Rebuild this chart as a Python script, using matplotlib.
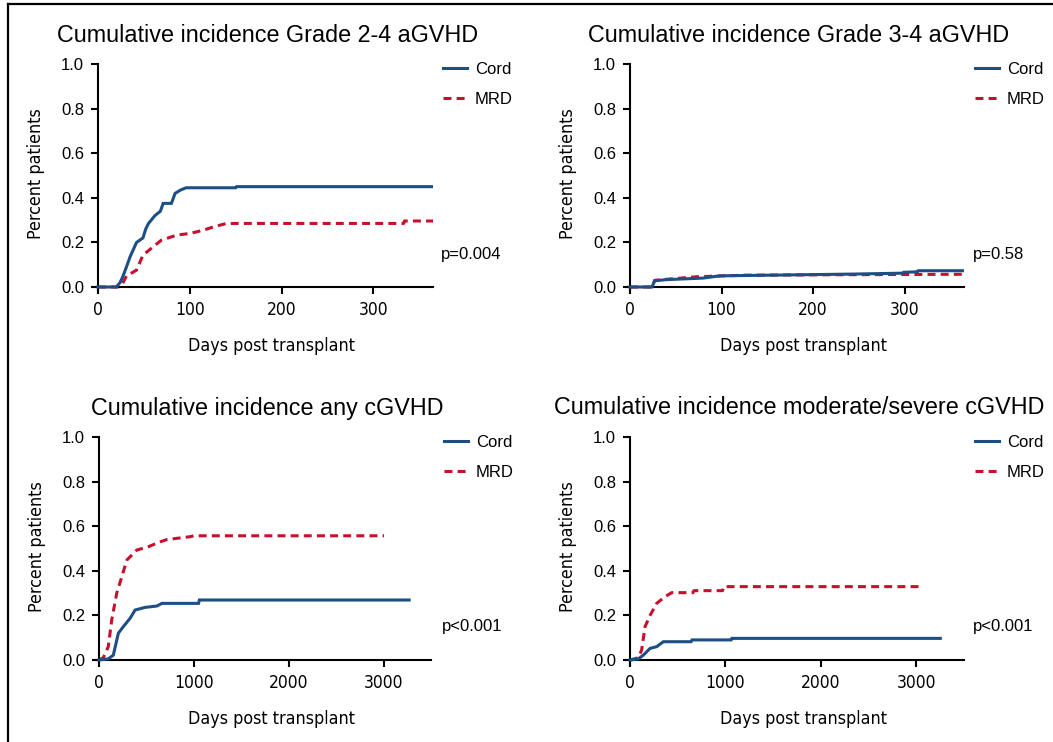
import matplotlib
matplotlib.use("Agg")
import matplotlib.pyplot as plt
from matplotlib.lines import Line2D
from matplotlib import font_manager

BLUE = "#1d4f85"
RED = "#c8102e"

# ---- data ----
titles = ["Cumulative incidence Grade 2-4 aGVHD", "Cumulative incidence Grade 3-4 aGVHD",
          "Cumulative incidence any cGVHD", "Cumulative incidence moderate/severe cGVHD"]
pvals = ["p=0.004", "p=0.58", "p<0.001", "p<0.001"]

# Grade 2-4 aGVHD
a24_cord_days = [0, 20, 24, 27, 31, 35, 42, 49, 52, 55, 62, 68, 71, 80, 84, 90, 96, 150, 151, 365]
a24_cord_vals = [0, 0, 0.02, 0.046, 0.09, 0.136, 0.20, 0.22, 0.26, 0.285, 0.32, 0.34, 0.375, 0.375, 0.42, 0.435, 0.445, 0.445, 0.45, 0.45]
a24_mrd_days = [0, 22, 26, 31, 42, 49, 60, 69, 86, 100, 115, 126, 140, 333, 334, 365]
a24_mrd_vals = [0, 0, 0.01, 0.049, 0.076, 0.143, 0.18, 0.21, 0.233, 0.24, 0.255, 0.27, 0.285, 0.285, 0.296, 0.296]

# Grade 3-4 aGVHD
a34_cord_days = [0, 24, 27, 40, 80, 98, 244, 298, 299, 314, 315, 365]
a34_cord_vals = [0, 0, 0.028, 0.033, 0.04, 0.05, 0.058, 0.062, 0.066, 0.068, 0.073, 0.073]
a34_mrd_days = [0, 24, 27, 73, 126, 230, 365]
a34_mrd_vals = [0, 0, 0.03, 0.046, 0.053, 0.055, 0.057]

# any cGVHD
c_cord_days = [0, 98, 151, 204, 257, 328, 380, 486, 610, 663, 1050, 1058, 3270]
c_cord_vals = [0, 0.005, 0.022, 0.12, 0.15, 0.187, 0.224, 0.236, 0.242, 0.254, 0.254, 0.269, 0.269]
c_mrd_days = [0, 45, 98, 134, 187, 240, 293, 398, 521, 645, 715, 962, 997, 3005]
c_mrd_vals = [0, 0.01, 0.06, 0.18, 0.30, 0.373, 0.448, 0.493, 0.508, 0.53, 0.54, 0.553, 0.557, 0.557]

# moderate/severe cGVHD
m_cord_days = [0, 87, 140, 210, 280, 350, 640, 650, 1060, 1067, 3252]
m_cord_vals = [0, 0.005, 0.022, 0.052, 0.06, 0.082, 0.082, 0.09, 0.09, 0.097, 0.097]
m_mrd_days = [0, 87, 122, 157, 210, 280, 367, 437, 660, 670, 970, 980, 3043]
m_mrd_vals = [0, 0.01, 0.045, 0.149, 0.20, 0.254, 0.284, 0.302, 0.302, 0.311, 0.311, 0.329, 0.329]

series = [
    (a24_cord_days, a24_cord_vals, a24_mrd_days, a24_mrd_vals),
    (a34_cord_days, a34_cord_vals, a34_mrd_days, a34_mrd_vals),
    (c_cord_days, c_cord_vals, c_mrd_days, c_mrd_vals),
    (m_cord_days, m_cord_vals, m_mrd_days, m_mrd_vals),
]
xticks_short = [0, 100, 200, 300]
xticks_long = [0, 1000, 2000, 3000]
yticks = [0.0, 0.2, 0.4, 0.6, 0.8, 1.0]

# ---- fonts ----
plt.rcParams["font.family"] = ["Liberation Sans", "DejaVu Sans"]
narrow = dict(family="DejaVu Sans", stretch="condensed")

W, H = 1053, 742
fig = plt.figure(figsize=(W / 100, H / 100), dpi=100)

def fx(px):
    return px / W

def fy(py):
    return 1 - py / H

# panel layout in pixels: x of data 0, x of xmax, y of data 0, y of data 1
panels = [
    (98, 433, 287, 64, 365, xticks_short),
    (630, 964, 287, 64, 365, xticks_short),
    (99, 431, 660, 437, 3500, xticks_long),
    (630, 964, 660, 437, 3500, xticks_long),
]

for i, (x0, x1, y0, y1, xmax, xt) in enumerate(panels):
    xmin = -0.012 * xmax
    ymin = -0.025
    sx = (x1 - x0) / xmax
    sy = (y0 - y1)
    left = x0 + xmin * sx
    bottom = y0 - ymin * sy
    ax = fig.add_axes([fx(left), fy(bottom), fx(x1 - left), (bottom - y1) / H])
    ax.set_xlim(xmin, xmax)
    ax.set_ylim(ymin, 1.0)
    cd, cv, md, mv = series[i]
    ax.plot(cd, cv, color=BLUE, lw=2.2, label="Cord", zorder=3, solid_joinstyle="miter")
    ax.plot(md, mv, color=RED, lw=2.2, dashes=(2.6, 1.7), label="MRD", zorder=2)
    for s in ["top", "right"]:
        ax.spines[s].set_visible(False)
    ax.spines["left"].set_position(("data", 0))
    ax.spines["bottom"].set_position(("data", 0))
    for s in ["left", "bottom"]:
        ax.spines[s].set_linewidth(1.5)
    ax.set_xticks(xt)
    ax.set_yticks(yticks)
    ax.set_yticklabels([f"{v:.1f}" for v in yticks])
    ax.tick_params(axis="both", direction="out", length=5, width=1.5, labelsize=12)
    ax.tick_params(axis="y", pad=5)
    ax.tick_params(axis="x", pad=5)
    for lab in ax.get_xticklabels():
        lab.set_fontproperties(font_manager.FontProperties(size=12.5, **narrow))
    cx = (x0 + x1) / 2
    fig.text(fx(cx + 2), fy(y1 - 29), titles[i], ha="center", va="center", fontsize=16.8)
    fig.text(fx(x0 - 62), fy((y0 + y1) / 2 - 2), "Percent patients", rotation=90,
             ha="center", va="center", fontsize=12.8, **narrow)
    fig.text(fx(cx + 6), fy(y0 + 59), "Days post transplant", ha="center", va="center",
             fontsize=12.8, **narrow)
    fig.text(fx(x0 + 343), fy(y0 - 33), pvals[i], ha="left", va="center", fontsize=12)
    ax.legend(loc="upper left", bbox_to_anchor=(fx(x0 + 345), fy(y1 - 2)),
              bbox_transform=fig.transFigure, frameon=False, fontsize=12,
              handlelength=1.45, handletextpad=0.45, labelspacing=0.9,
              borderpad=0, borderaxespad=0)

# frame lines on left and top edge
fig.add_artist(Line2D([fx(8), fx(8)], [0, fy(4)], color="black", lw=1.6))
fig.add_artist(Line2D([fx(8), 1], [fy(4), fy(4)], color="black", lw=1.6))

fig.savefig("out.png", dpi=100)
